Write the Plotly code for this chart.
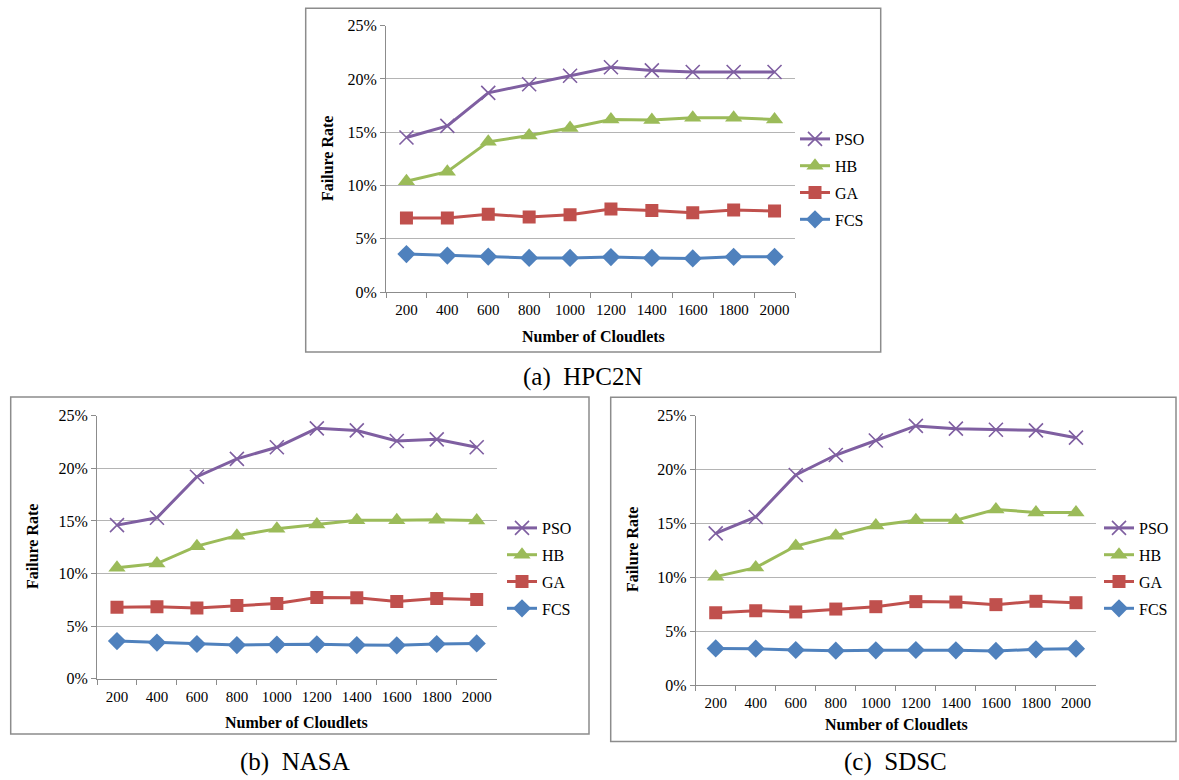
import plotly.graph_objects as go

FW, FH = 1179, 776

cloudlets = ["200", "400", "600", "800", "1000", "1200", "1400", "1600", "1800", "2000"]
series_names = ["PSO", "HB", "GA", "FCS"]

# HPC2N (a)
hpc_pso = [14.5, 15.6, 18.7, 19.5, 20.3, 21.1, 20.8, 20.65, 20.65, 20.65]
hpc_hb = [10.4, 11.3, 14.1, 14.7, 15.4, 16.2, 16.15, 16.35, 16.35, 16.2]
hpc_ga = [6.95, 6.95, 7.3, 7.05, 7.25, 7.8, 7.65, 7.45, 7.7, 7.6]
hpc_fcs = [3.56, 3.42, 3.33, 3.2, 3.2, 3.28, 3.2, 3.15, 3.3, 3.3]

# NASA (b)
nasa_pso = [14.6, 15.3, 19.2, 20.9, 22.0, 23.8, 23.6, 22.6, 22.75, 22.0]
nasa_hb = [10.55, 10.95, 12.6, 13.6, 14.25, 14.65, 15.07, 15.07, 15.1, 15.03]
nasa_ga = [6.8, 6.85, 6.73, 6.97, 7.15, 7.72, 7.7, 7.35, 7.63, 7.53]
nasa_fcs = [3.58, 3.43, 3.3, 3.2, 3.24, 3.27, 3.2, 3.17, 3.3, 3.35]

# SDSC (c)
sdsc_pso = [14.08, 15.6, 19.5, 21.35, 22.7, 24.05, 23.8, 23.7, 23.64, 22.96]
sdsc_hb = [10.06, 10.9, 12.9, 13.86, 14.8, 15.3, 15.3, 16.3, 16.02, 16.02]
sdsc_ga = [6.7, 6.9, 6.78, 7.05, 7.27, 7.74, 7.7, 7.46, 7.77, 7.64]
sdsc_fcs = [3.4, 3.37, 3.25, 3.19, 3.22, 3.25, 3.22, 3.16, 3.31, 3.37]

y_ticks = [0, 5, 10, 15, 20, 25]
y_ticklabels = ["0%", "5%", "10%", "15%", "20%", "25%"]

captions = ["(a)  HPC2N", "(b)  NASA", "(c)  SDSC"]
x_title = "Number of Cloudlets"
y_title = "Failure Rate"

colors = {"PSO": "#7F5FA1", "HB": "#9BBB59", "GA": "#C0504D", "FCS": "#4F81BD"}
symbols = {"PSO": "x-thin", "HB": "triangle-up", "GA": "square", "FCS": "diamond"}
msizes = {"PSO": 14, "HB": 15, "GA": 13, "FCS": 14}

SERIF = "Liberation Serif"


def px(x):
    return x / FW


def py(y):
    return 1 - y / FH


panels = [
    dict(data=[hpc_pso, hpc_hb, hpc_ga, hpc_fcs], ax="", box=(386, 25.7, 795, 292),
         legend="legend", leg=(795, 122), frame=(305.7, 8.3, 880.7, 352),
         ytitle=(328, 159), xtitle=(594, 336), caption=(582, 377)),
    dict(data=[nasa_pso, nasa_hb, nasa_ga, nasa_fcs], ax="2", box=(97, 415.7, 496.7, 678.7),
         legend="legend2", leg=(502, 511), frame=(10.7, 397, 589, 734),
         ytitle=(32, 547), xtitle=(297, 722), caption=(295, 762)),
    dict(data=[sdsc_pso, sdsc_hb, sdsc_ga, sdsc_fcs], ax="3", box=(695.7, 415.7, 1096, 685),
         legend="legend3", leg=(1099, 511), frame=(610.7, 397.3, 1176, 741.5),
         ytitle=(632, 550), xtitle=(896, 724), caption=(895, 762)),
]

fig = go.Figure()
layout = dict(
    width=FW, height=FH, margin=dict(l=0, r=0, t=0, b=0, pad=0, autoexpand=False),
    paper_bgcolor="white", plot_bgcolor="white",
    font=dict(family=SERIF, color="black"),
)
shapes = []
annotations = []

for i, p in enumerate(panels):
    for name, vals in zip(series_names, p["data"]):
        marker = dict(symbol=symbols[name], size=msizes[name], color=colors[name])
        if name == "PSO":
            marker["line"] = dict(color=colors[name], width=1.6)
        else:
            marker["line"] = dict(width=0)
        fig.add_trace(go.Scatter(
            x=cloudlets, y=vals, name=name, mode="lines+markers",
            line=dict(color=colors[name], width=3),
            marker=marker,
            xaxis="x" + p["ax"], yaxis="y" + p["ax"],
            legend=p["legend"], legendgroup=p["legend"] + name,
        ))
    l, t, r, b = p["box"]
    layout["xaxis" + p["ax"]] = dict(
        domain=[px(l), px(r)], anchor="y" + p["ax"], type="category",
        range=[-0.5, 9.5], showgrid=False, showline=True, linecolor="#8C8C8C", linewidth=1,
        ticks="outside", tickson="boundaries", ticklen=5, tickcolor="#8C8C8C", tickangle=0,
        ticklabelstandoff=4, automargin=False,
        tickfont=dict(family=SERIF, size=15, color="black"), fixedrange=True,
    )
    layout["yaxis" + p["ax"]] = dict(
        domain=[py(b), py(t)], anchor="x" + p["ax"], range=[0, 25],
        tickvals=y_ticks, ticktext=y_ticklabels, automargin=False,
        showgrid=True, gridcolor="#B4B4B4", gridwidth=1,
        showline=True, linecolor="#8C8C8C", linewidth=1,
        ticks="outside", ticklen=5, tickcolor="#8C8C8C",
        tickfont=dict(family=SERIF, size=16, color="black"), zeroline=False, fixedrange=True,
    )
    lx, lt = p["leg"]
    layout[p["legend"]] = dict(
        x=px(lx), y=py(lt), xanchor="left", yanchor="top",
        bgcolor="rgba(0,0,0,0)", borderwidth=0, tracegroupgap=3,
        font=dict(family=SERIF, size=16, color="black"), traceorder="grouped",
    )
    fl, ft, fr, fb = p["frame"]
    shapes.append(dict(type="rect", xref="paper", yref="paper",
                       x0=px(fl), x1=px(fr), y0=py(fb), y1=py(ft),
                       line=dict(color="#8C8C8C", width=1.5), layer="below"))
    yx, yy = p["ytitle"]
    annotations.append(dict(text="<b>" + y_title + "</b>", x=px(yx), y=py(yy), xref="paper", yref="paper",
                            showarrow=False, textangle=-90, xanchor="center", yanchor="middle",
                            font=dict(family=SERIF, size=16, color="black")))
    xx, xy = p["xtitle"]
    annotations.append(dict(text="<b>" + x_title + "</b>", x=px(xx), y=py(xy), xref="paper", yref="paper",
                            showarrow=False, xanchor="center", yanchor="middle",
                            font=dict(family=SERIF, size=16, color="black")))
    cx, cy = p["caption"]
    annotations.append(dict(text=captions[i], x=px(cx), y=py(cy), xref="paper", yref="paper",
                            showarrow=False, xanchor="center", yanchor="middle",
                            font=dict(family=SERIF, size=25, color="black")))

layout["shapes"] = shapes
layout["annotations"] = annotations
fig.update_layout(**layout)
fig.write_html(
    "out.html",
    config={"displayModeBar": False},
    post_script="document.body.style.margin='0';document.body.style.overflow='hidden';"
                "document.documentElement.style.overflow='hidden';",
)
